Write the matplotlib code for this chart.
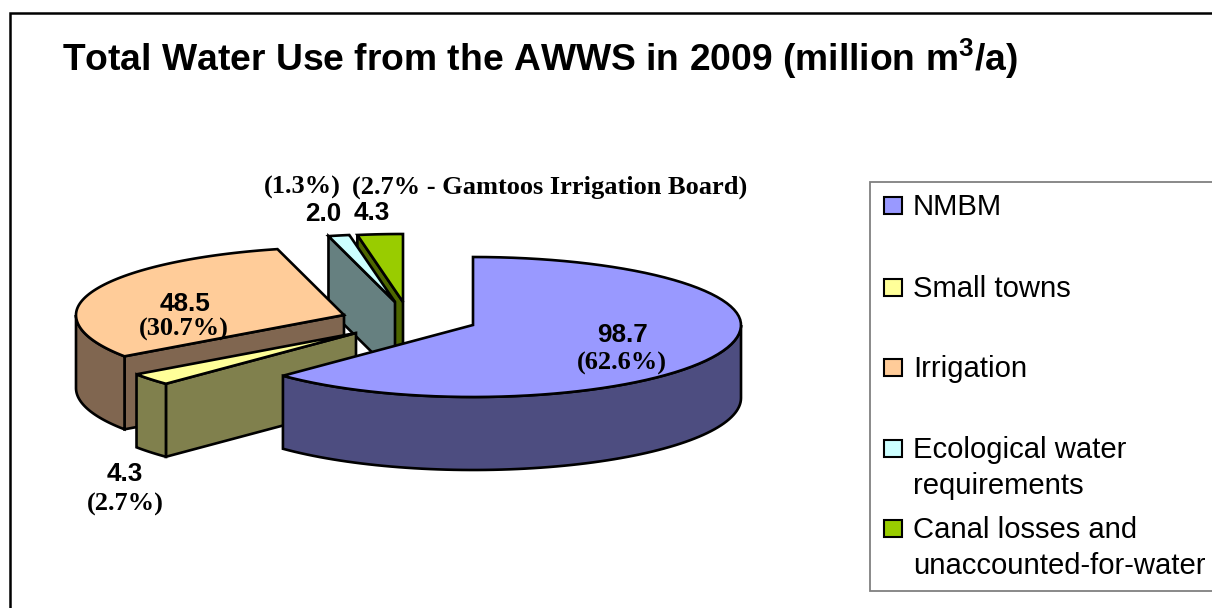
import numpy as np
import matplotlib
matplotlib.use("Agg")
import matplotlib.pyplot as plt
from matplotlib.patches import Polygon, Rectangle

plt.rcParams['mathtext.fontset'] = 'custom'
plt.rcParams['mathtext.bf'] = 'Liberation Sans:bold'
plt.rcParams['mathtext.rm'] = 'Liberation Sans:bold'

# ---- data ----
categories = ["NMBM", "Small towns", "Irrigation",
              "Ecological water\nrequirements",
              "Canal losses and\nunaccounted-for-water"]
values = [98.7, 4.3, 48.5, 2.0, 4.3]
percents = ["(62.6%)", "(2.7%)", "(30.7%)", "(1.3%)", "(2.7% - Gamtoos Irrigation Board)"]
title = "Total Water Use from the AWWS in 2009 (million m$^{\\mathbf{3}}$/a)"

# ---- style ----
top_colors = ["#9999FF", "#FFFF99", "#FFCC99", "#CCFFFF", "#99CC00"]
side_colors = ["#4D4D80", "#80804D", "#806650", "#668080", "#4D6600"]
apexes = [(473, 325), (356, 333), (344, 315), (395, 302), (403, 302)]   # exploded wedge tips
RX, RY_BACK, RY_FRONT, DEPTH = 268, 68, 72, 73
LW = 1.9

fig = plt.figure(figsize=(12.12, 6.08), dpi=100)
ax = fig.add_axes([0, 0, 1, 1])
ax.set_xlim(0, 1212)
ax.set_ylim(608, 0)
ax.axis("off")


def rim(apex, t0, t1, n=80):
    t = np.radians(np.linspace(t0, t1, n))
    c = np.cos(t)
    ry = np.where(c >= 0, RY_BACK, RY_FRONT)
    return np.column_stack([apex[0] + RX * np.sin(t), apex[1] - ry * c])


def extrude(pts):
    pts = np.asarray(pts)
    return np.vstack([pts, (pts + [0, DEPTH])[::-1]])


def poly(pts, color, z):
    ax.add_patch(Polygon(pts, closed=True, facecolor=color, edgecolor="black",
                         linewidth=LW, joinstyle="miter", zorder=z))


total = sum(values)
edges = np.concatenate([[0], np.cumsum(values) / total * 360])

# draw wedges from back to front
for z, i in enumerate([4, 3, 2, 1, 0]):
    a, t0, t1 = apexes[i], edges[i], edges[i + 1]
    base = 2 * z + 2
    if i == 0:                       # front rim only
        poly(extrude(rim(a, 90, t1)), side_colors[i], base)
    else:
        # cut face on the clockwise-start side
        p0 = rim(a, t0, t0, 1)[0]
        poly(extrude([a, p0]), side_colors[i], base)
        if t0 < 270:                 # front-left outer rim
            poly(extrude(rim(a, t0, min(t1, 270))), side_colors[i], base)
    top = np.vstack([[a], rim(a, t0, t1)])
    poly(top, top_colors[i], base + 1)

# ---- frame ----
ax.plot([9.5, 9.5, 1212], [608, 12.5, 12.5], color="black", lw=1.8, zorder=1,
        solid_joinstyle="miter", clip_on=True)

# ---- title ----
ax.text(62, 59, title, fontsize=26.8, fontweight="bold", family="Liberation Sans",
        ha="left", va="center", color="black", zorder=30)

# ---- data labels ----
label_pos = [((622, 335), (622, 363)),
             ((125, 474), (125, 504)),
             ((185, 304), (184, 329)),
             ((323, 214), (302, 187)),
             ((372, 213), None)]
for v, p, (vp, pp) in zip(values, percents, label_pos):
    ax.text(vp[0], vp[1], f"{v:.1f}", fontsize=18.8, fontweight="bold",
            family="Liberation Sans", ha="center", va="center", zorder=30)
    if pp is not None:
        ax.text(pp[0], pp[1], p, fontsize=19, fontweight="bold",
                family="Liberation Serif", ha="center", va="center", zorder=30)
ax.text(352, 187, percents[4], fontsize=19, fontweight="bold",
        family="Liberation Serif", ha="left", va="center", zorder=30)

# ---- legend ----
ax.add_patch(Rectangle((870, 181.5), 360, 409.5, facecolor="white",
                       edgecolor="#808080", linewidth=1.3, zorder=20))
leg_y = [205, 287, 367, 448, 528]
for name, col, y in zip(categories, top_colors, leg_y):
    ax.add_patch(Rectangle((884, y - 8.5), 18, 17, facecolor=col, edgecolor="black",
                           linewidth=1.5, zorder=21))
    ax.text(913, y - 12, name, fontsize=21.1, family="Liberation Sans", ha="left", va="top",
            linespacing=1.35, zorder=21)

fig.savefig("out.png", dpi=100)
